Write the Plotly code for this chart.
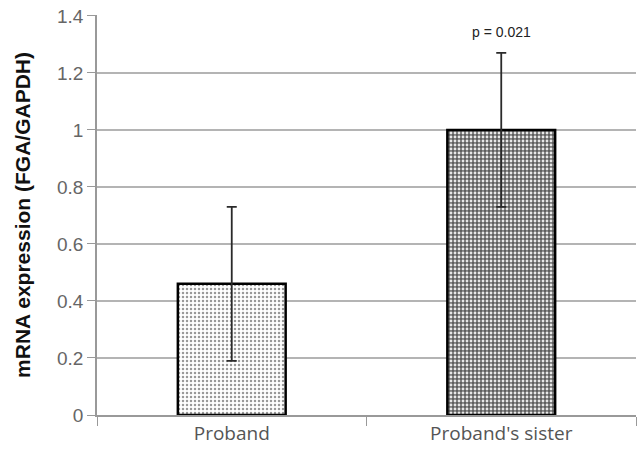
import plotly.graph_objects as go

categories = ["Proband", "Proband's sister"]
values = [0.46, 1.0]
errors = [0.27, 0.27]
bg_colors = ["#ffffff", "#5e5e5e"]
fg_colors = ["#999999", "#e8e8e8"]
solidities = [0.3, 0.4]
y_ticks = [0, 0.2, 0.4, 0.6, 0.8, 1.0, 1.2, 1.4]
y_tick_labels = ["0", "0.2", "0.4", "0.6", "0.8", "1", "1.2", "1.4"]
p_label = "p = 0.021"

fig = go.Figure()
for i in range(len(categories)):
    fig.add_trace(go.Bar(
        x=[categories[i]], y=[values[i]],
        width=0.4,
        marker=dict(color=bg_colors[i], line=dict(color="black", width=2.5),
                    pattern=dict(shape=".", fgcolor=fg_colors[i], bgcolor=bg_colors[i],
                                 size=4, solidity=solidities[i], fillmode="replace")),
        error_y=dict(type="data", array=[errors[i]], visible=True,
                     color="#2a2a2a", thickness=1.8, width=5),
        showlegend=False,
    ))

fig.add_annotation(x=categories[1], y=values[1] + errors[1], yshift=21,
                   text=p_label, showarrow=False,
                   font=dict(family="Liberation Sans, Arial", size=14, color="#222"))

fig.update_layout(
    width=642, height=455,
    margin=dict(l=97, r=6, t=15, b=40),
    plot_bgcolor="white", paper_bgcolor="white",
    xaxis=dict(type="category", tickson="boundaries", ticks="outside", ticklen=9,
               tickcolor="#999", showline=True, linecolor="#999", linewidth=1.5,
               showgrid=False,
               tickfont=dict(family="Open Sans, Liberation Sans", size=19, color="#555")),
    yaxis=dict(range=[0, 1.403], tickvals=y_ticks, ticktext=y_tick_labels,
               ticks="outside", ticklen=8, tickcolor="#999",
               showline=True, linecolor="#999", linewidth=1.5,
               showgrid=True, gridcolor="#b4b4b4", gridwidth=1.5,
               zeroline=False, ticklabeloverflow="allow",
               tickfont=dict(family="Liberation Sans, Arial", size=19, color="#666"),
               title=dict(text="<b>mRNA expression (FGA/GAPDH)</b>", standoff=21,
                          font=dict(family="Liberation Sans, Arial", size=21, color="#111"))),
)

fig.write_html("out.html", config={"displayModeBar": False},
               post_script="document.body.style.margin='0';")
